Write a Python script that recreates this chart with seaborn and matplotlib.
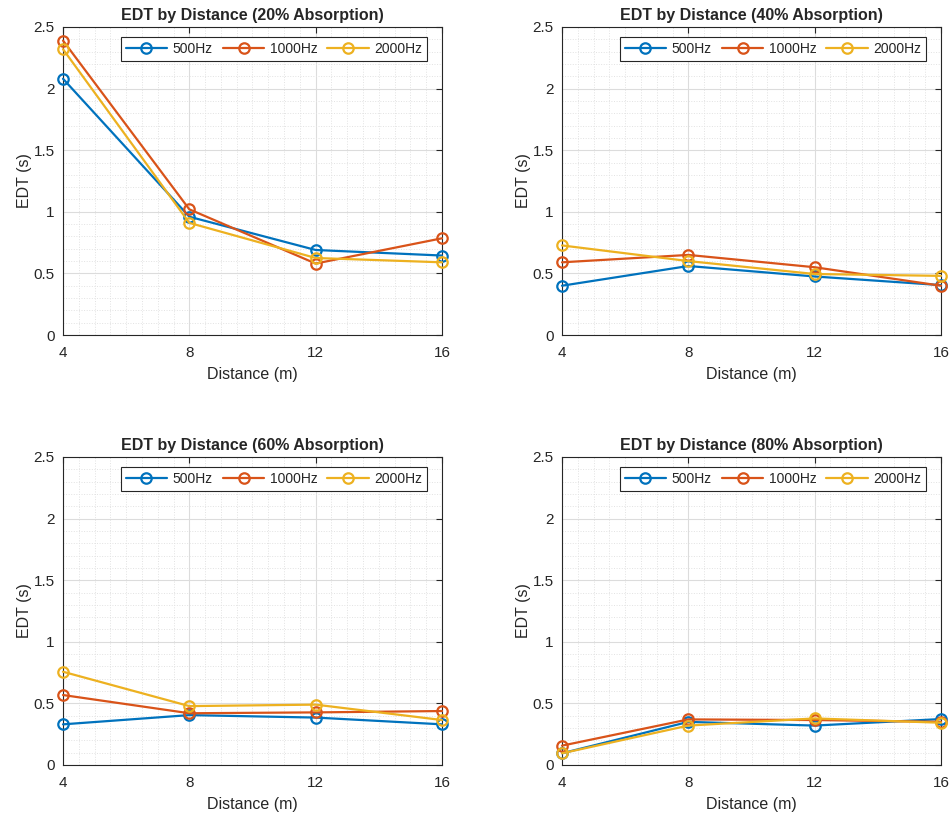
import numpy as np
import pandas as pd
import matplotlib
matplotlib.use("Agg")
import matplotlib.pyplot as plt
import seaborn as sns
from matplotlib.ticker import MultipleLocator

# data
distances = [4, 8, 12, 16]
frequencies = ["500Hz", "1000Hz", "2000Hz"]
absorptions = ["20%", "40%", "60%", "80%"]

edt_20_500 = [2.08, 0.96, 0.69, 0.645]
edt_20_1000 = [2.39, 1.02, 0.58, 0.785]
edt_20_2000 = [2.32, 0.91, 0.625, 0.59]

edt_40_500 = [0.40, 0.56, 0.475, 0.405]
edt_40_1000 = [0.59, 0.65, 0.55, 0.40]
edt_40_2000 = [0.727, 0.60, 0.495, 0.48]

edt_60_500 = [0.33, 0.405, 0.385, 0.33]
edt_60_1000 = [0.568, 0.42, 0.427, 0.438]
edt_60_2000 = [0.757, 0.478, 0.49, 0.365]

edt_80_500 = [0.095, 0.35, 0.32, 0.373]
edt_80_1000 = [0.157, 0.37, 0.365, 0.35]
edt_80_2000 = [0.095, 0.32, 0.378, 0.343]

series = {
    "20%": [edt_20_500, edt_20_1000, edt_20_2000],
    "40%": [edt_40_500, edt_40_1000, edt_40_2000],
    "60%": [edt_60_500, edt_60_1000, edt_60_2000],
    "80%": [edt_80_500, edt_80_1000, edt_80_2000],
}

colors = ["#0072BD", "#D95319", "#EDB120"]

sns.set_style("white")
plt.rcParams["font.family"] = ["Liberation Sans", "DejaVu Sans"]

fig = plt.figure(figsize=(9.53, 8.15), dpi=100)

lefts = [63 / 953, 562 / 953]
bottoms = [1 - 335 / 815, 1 - 765 / 815]
w = 379 / 953
h = 308 / 815

for i, absn in enumerate(absorptions):
    rows = []
    for f, vals in zip(frequencies, series[absn]):
        for d, v in zip(distances, vals):
            rows.append({"Distance": d, "EDT": v, "Freq": f})
    df = pd.DataFrame(rows)

    ax = fig.add_axes([lefts[i % 2], bottoms[i // 2], w, h])
    sns.lineplot(data=df, x="Distance", y="EDT", hue="Freq", hue_order=frequencies,
                 palette=colors, marker="o", markersize=7.5, markerfacecolor="none",
                 markeredgewidth=1.6, linewidth=1.6, legend=False, ax=ax)
    lines = ax.get_lines()[:3]
    for line, c in zip(lines, colors):
        line.set_markeredgecolor(c)
        line.set_markerfacecolor("none")
        line.set_clip_on(False)
        line.set_zorder(3)

    ax.set_xlim(4, 16)
    ax.set_ylim(0, 2.5)
    ax.set_xticks(distances)
    ax.set_yticks([0, 0.5, 1, 1.5, 2, 2.5])
    ax.set_yticklabels(["0", "0.5", "1", "1.5", "2", "2.5"])
    ax.xaxis.set_minor_locator(MultipleLocator(0.5))
    ax.yaxis.set_minor_locator(MultipleLocator(0.1))
    ax.grid(which="major", color="#dcdcdc", linewidth=0.8)
    ax.grid(which="minor", color="#e2e2e2", linestyle=":", linewidth=0.7)
    ax.set_axisbelow(True)
    ax.tick_params(which="both", direction="in", top=True, right=True,
                   labelsize=11, colors="#262626")
    ax.tick_params(which="major", length=4)
    ax.tick_params(axis="x", which="major", pad=8)
    ax.tick_params(axis="y", which="major", pad=6)
    ax.tick_params(which="minor", length=0)
    for s in ax.spines.values():
        s.set_color("#262626")
        s.set_linewidth(0.8)

    ax.set_title(f"EDT by Distance ({absn} Absorption)", fontsize=11.5,
                 fontweight="bold", pad=5)
    ax.set_xlabel("Distance (m)", fontsize=11.5, color="#262626", labelpad=5)
    ax.set_ylabel("EDT (s)", fontsize=11.5, color="#262626", labelpad=1)

    leg = ax.legend(handles=lines, labels=frequencies, loc="upper right", ncol=3,
                    fontsize=10, frameon=True, fancybox=False, handlelength=3.0,
                    columnspacing=0.7, handletextpad=0.4, borderpad=0.35,
                    bbox_to_anchor=(0.98, 0.99))
    leg.get_frame().set_edgecolor("#262626")
    leg.get_frame().set_linewidth(0.8)
    leg.get_frame().set_alpha(1)

plt.savefig("out.png", dpi=100)
